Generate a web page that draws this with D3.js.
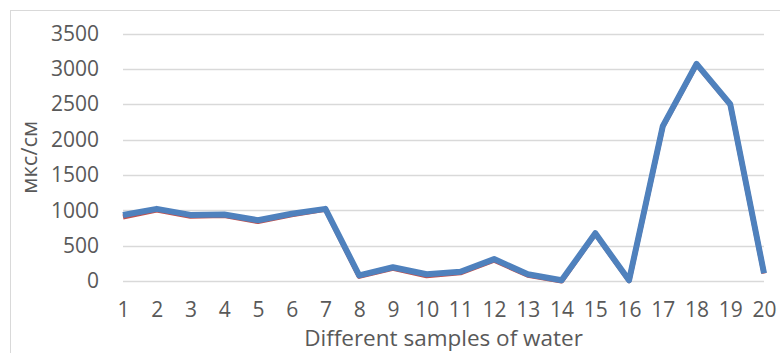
<!DOCTYPE html>
<html>
<head>
<meta charset="utf-8">
<script src="https://cdn.jsdelivr.net/npm/d3@7"></script>
<style>
  body { margin: 0; background: #fff; }
  text { font-family: "Open Sans", sans-serif; fill: #595959; }
</style>
</head>
<body>
<div id="main"></div>
<script>
//sample numbers and the two series
const samples = [1,2,3,4,5,6,7,8,9,10,11,12,13,14,15,16,17,18,19,20];
const seriesBlue = [933,1020,935,940,860,950,1020,80,195,95,130,310,95,10,675,10,2190,3070,2500,110];
const seriesRed  = [905,1005,915,925,840,935,1015,65,180,75,115,295,80,0,670,5,2185,3065,2495,105];
const yTicks = [0,500,1000,1500,2000,2500,3000,3500];

const width = 780, height = 353;
const margin = {left: 123, right: 16, top: 33.5, bottom: 72};

const svg = d3.select('#main').append('svg')
  .attr('width', width).attr('height', height);

//chart frame
svg.append('rect')
  .attr('x', 10.5).attr('y', 10.5)
  .attr('width', width + 10).attr('height', height + 10)
  .attr('fill', 'none').attr('stroke', '#d9d9d9');

var xScale = d3.scalePoint().domain(samples).range([margin.left, width - margin.right]).padding(0);
var yScale = d3.scaleLinear().domain([0, 3500]).range([height - margin.bottom, margin.top]);

//gridlines
svg.append('g').selectAll('line').data(yTicks).enter().append('line')
  .attr('x1', margin.left).attr('x2', width - margin.right)
  .attr('y1', d => Math.round(yScale(d)) + 0.5).attr('y2', d => Math.round(yScale(d)) + 0.5)
  .attr('stroke', '#d9d9d9').attr('stroke-width', 1.3);

//y axis labels
var yAxis = d3.axisLeft(yScale).tickValues(yTicks).tickFormat(d3.format('d')).tickSize(0).tickPadding(24);
var gy = svg.append('g').attr('transform', 'translate(' + margin.left + ',0)').call(yAxis);
gy.select('.domain').remove();
gy.selectAll('text').style('font-size', '21px').attr('font-family', null).attr('fill', '#595959');

//x axis labels
var xAxis = d3.axisBottom(xScale).tickSize(0).tickPadding(21);
var gx = svg.append('g').attr('transform', 'translate(0,' + (height - margin.bottom) + ')').call(xAxis);
gx.select('.domain').remove();
gx.selectAll('text').style('font-size', '21px').attr('font-family', null).attr('fill', '#595959');

//axis titles
svg.append('text')
  .attr('x', (margin.left + width - margin.right) / 2).attr('y', 346)
  .attr('text-anchor', 'middle').style('font-size', '22.5px')
  .text('Different samples of water');

svg.append('text')
  .attr('transform', 'translate(37,' + ((margin.top + height - margin.bottom) / 2) + ') rotate(-90)')
  .attr('text-anchor', 'middle').style('font-size', '22px')
  .text('мкс/см');

//lines
var line = d3.line().x((d, i) => xScale(samples[i])).y(d => yScale(d));

svg.append('path').datum(seriesRed)
  .attr('d', line).attr('fill', 'none')
  .attr('stroke', '#c0504d').attr('stroke-width', 5).attr('stroke-linejoin', 'round');

svg.append('path').datum(seriesBlue)
  .attr('d', line).attr('fill', 'none')
  .attr('stroke', '#4f81bd').attr('stroke-width', 6).attr('stroke-linejoin', 'round');
</script>
</body>
</html>
